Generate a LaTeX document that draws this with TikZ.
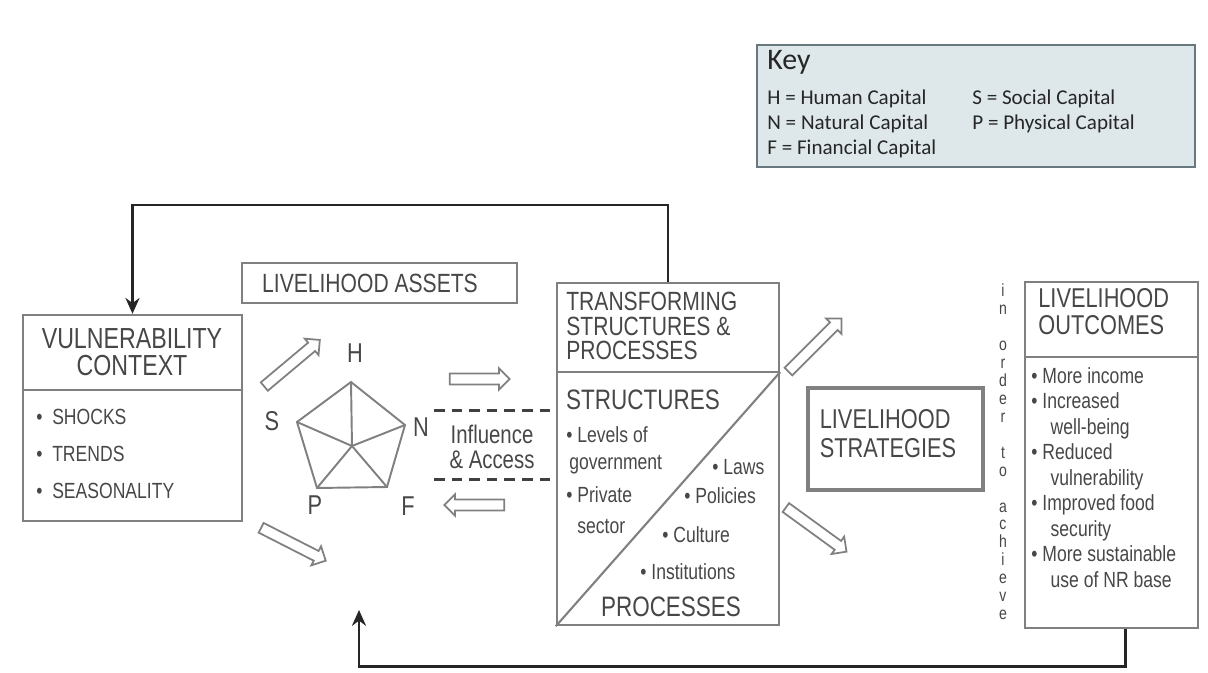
\documentclass[tikz,border=0pt]{standalone}
\usepackage{fontspec}
\setmainfont{Liberation Sans}
\newfontfamily\headfont[FakeStretch=0.8]{Liberation Sans}
\newfontfamily\keyfont{Carlito}
\usepackage{tikz}
\usetikzlibrary{positioning,shapes.arrows,arrows.meta}

\definecolor{keyfill}{RGB}{222,232,235}
\definecolor{keyline}{RGB}{105,120,126}
\colorlet{inkgrey}{black!72}
\colorlet{boxgrey}{black!50}

\tikzset{
  box/.style={draw=boxgrey, line width=1.4pt, inner sep=0pt},
  head/.style={inkgrey, font=\headfont\fontsize{15}{14}\selectfont, inner sep=0pt},
  body/.style={inkgrey, font=\headfont\fontsize{12.5}{14}\selectfont, inner sep=0pt},
  corner/.style={inkgrey, font=\headfont\fontsize{15.5}{16}\selectfont, inner sep=0pt},
  pent/.style={boxgrey, line width=1.1pt},
  hollow/.style={single arrow, draw=boxgrey, fill=white, line width=1pt,
    minimum height=#1, minimum width=0.42cm, single arrow head extend=3pt, inner sep=2.6pt},
  feedback/.style={draw=black!85, line width=1.7pt},
  keytext/.style={font=\keyfont\fontsize{12}{14}\selectfont, black!85, inner sep=0pt, anchor=west}
}

\begin{document}
\begin{tikzpicture}[x=0.02cm, y=-0.02cm, >={Stealth[length=9pt,width=8pt]}]
  \useasboundingbox (0,0) rectangle (1208,673);
  % ---------- key ----------
  \node[draw=keyline, fill=keyfill, line width=1.2pt, minimum width=8.76cm, minimum height=2.44cm] (key) at (976,106) {};
  \node[keytext, font=\keyfont\fontsize{17}{17}\selectfont] (keyT) at (767,62) {Key};
  \node[keytext] (kH) at (767,99) {H = Human Capital};
  \node[keytext] (kN) at (767,124) {N = Natural Capital};
  \node[keytext] (kF) at (767,149) {F = Financial Capital};
  \node[keytext] (kS) at (972,99) {S = Social Capital};
  \node[keytext] (kP) at (972,124) {P = Physical Capital};
  % ---------- vulnerability context ----------
  \node[box, minimum width=4.38cm, minimum height=4.12cm] (vuln) at (132.5,418) {};
  \draw[boxgrey, line width=1.2pt] (vuln.west |- 0,390) -- (vuln.east |- 0,390);
  \node[head, align=center, font=\headfont\fontsize{16.5}{15.5}\selectfont] (vulnT) at (132,352) {VULNERABILITY\\CONTEXT};
  \node[body, anchor=north west, align=left, font=\headfont\fontsize{12.5}{21}\selectfont] (vulnL) at (36,409)
    {\textbullet\ \ SHOCKS\\ \textbullet\ \ TRENDS\\ \textbullet\ \ SEASONALITY};
  % ---------- livelihood assets ----------
  \node[box, minimum width=5.5cm, minimum height=0.8cm] (assets) at (379.5,283) {};
  \node[head] (assetsT) at (370,283) {LIVELIHOOD ASSETS};
  \coordinate (pc) at (352,446);
  \coordinate (vH) at (351,382);
  \coordinate (vN) at (405,425);
  \coordinate (vF) at (387,487);
  \coordinate (vP) at (317,488);
  \coordinate (vS) at (297,422);
  \draw[pent] (vH) -- (vN) -- (vF) -- (vP) -- (vS) -- cycle;
  \foreach \v in {vH,vN,vF,vP,vS}
    \draw[pent] (pc) -- (\v);
  \node[corner] (lH) at (355,353) {H};
  \node[corner] (lN) at (421,427) {N};
  \node[corner] (lF) at (408,506) {F};
  \node[corner] (lP) at (315,505) {P};
  \node[corner] (lS) at (272,421) {S};
  % hollow arrows round the assets
  \node[hollow=1.45cm, rotate=40] (aUp) at (290,365) {};
  \node[hollow=1.45cm, rotate=-27] (aDown) at (291,543) {};
  \node[hollow=1.2cm] (aRight) at (477,379) {};
  \node[hollow=1.2cm, rotate=180] (aLeft) at (477,505) {};
  % influence & access
  \node[minimum width=2.3cm, minimum height=1.36cm, inner sep=0pt] (infl) at (492,445) {};
  \draw[black!75, line width=2pt, dash pattern=on 6pt off 4pt] (infl.north west) -- (infl.north east);
  \draw[black!75, line width=2pt, dash pattern=on 6pt off 4pt] (infl.south west) -- (infl.south east);
  \node[body, align=center, font=\headfont\fontsize{14.5}{14}\selectfont] (inflT) at (492,447) {Influence\\\& Access};
  % ---------- transforming structures & processes ----------
  \node[box, minimum width=4.44cm, minimum height=6.84cm] (trans) at (668,454) {};
  \draw[boxgrey, line width=1.2pt] (trans.west |- 0,372) -- (trans.east |- 0,372);
  \draw[boxgrey, line width=1.2pt] (trans.east |- 0,372) -- (trans.south west);
  \node[head, anchor=north west, align=left] (transT) at (566,292) {TRANSFORMING\\STRUCTURES \&\\PROCESSES};
  \node[head, font=\headfont\fontsize{16}{16}\selectfont] (structT) at (643,400) {STRUCTURES};
  \node[body, anchor=west] (sLev) at (566,435) {\textbullet\ Levels of};
  \node[body, anchor=west] (sGov) at (569,465) {government};
  \node[body, anchor=west] (pLaws) at (712,467) {\textbullet\ Laws};
  \node[body, anchor=west] (sPriv) at (566,495) {\textbullet\ Private};
  \node[body, anchor=west] (pPol) at (684,496) {\textbullet\ Policies};
  \node[body, anchor=west] (sSec) at (577,527) {sector};
  \node[body, anchor=west] (pCult) at (662,535) {\textbullet\ Culture};
  \node[body, anchor=west] (pInst) at (640,572) {\textbullet\ Institutions};
  \node[head, font=\headfont\fontsize{16}{16}\selectfont] (procT) at (671,607) {PROCESSES};
  % hollow arrows to the strategies
  \node[hollow=1.5cm, rotate=45] (tUp) at (813,347) {};
  \node[hollow=1.5cm, rotate=-36] (tDown) at (814,528) {};
  % ---------- livelihood strategies ----------
  \node[box, line width=2pt, minimum width=3.5cm, minimum height=2.04cm] (strat) at (895.5,439) {};
  \node[head, align=left, font=\headfont\fontsize{15.5}{16.4}\selectfont] (stratT) at (888,434) {LIVELIHOOD\\STRATEGIES};
  \node[inkgrey, font=\headfont\fontsize{10}{10.2}\selectfont, align=center, inner sep=0pt] (achieve) at (1003,452)
    {i\\n\\[10.2pt]o\\r\\d\\e\\r\\[10.2pt]t\\o\\[10.2pt]a\\c\\h\\i\\e\\v\\e};
  % ---------- livelihood outcomes ----------
  \node[box, minimum width=3.46cm, minimum height=6.92cm] (outc) at (1111.5,455) {};
  \draw[boxgrey, line width=1.2pt] (outc.west |- 0,357) -- (outc.east |- 0,357);
  \node[head, anchor=north west, align=left, font=\headfont\fontsize{15.5}{15.3}\selectfont] (outcT) at (1038,288) {LIVELIHOOD\\OUTCOMES};
  \node[body, anchor=north west, align=left, font=\headfont\fontsize{12.5}{14.5}\selectfont] (outcL) at (1031,367)
    {\textbullet\ More income\\
     \textbullet\ Increased\\
     \hspace*{11pt}well-being\\
     \textbullet\ Reduced\\
     \hspace*{11pt}vulnerability\\
     \textbullet\ Improved food\\
     \hspace*{11pt}security\\
     \textbullet\ More sustainable\\
     \hspace*{11pt}use of NR base};
  % ---------- feedback loops ----------
  \draw[feedback, ->] (trans.north) -- (trans.north |- 0,205) -| (vuln.north);
  \coordinate (outcFoot) at ([xshift=0.28cm]outc.south);
  \coordinate (assetsIn) at (359,610);
  \draw[feedback, ->] (outcFoot) -- (outcFoot |- 0,666) -| (assetsIn);
\end{tikzpicture}
\end{document}
